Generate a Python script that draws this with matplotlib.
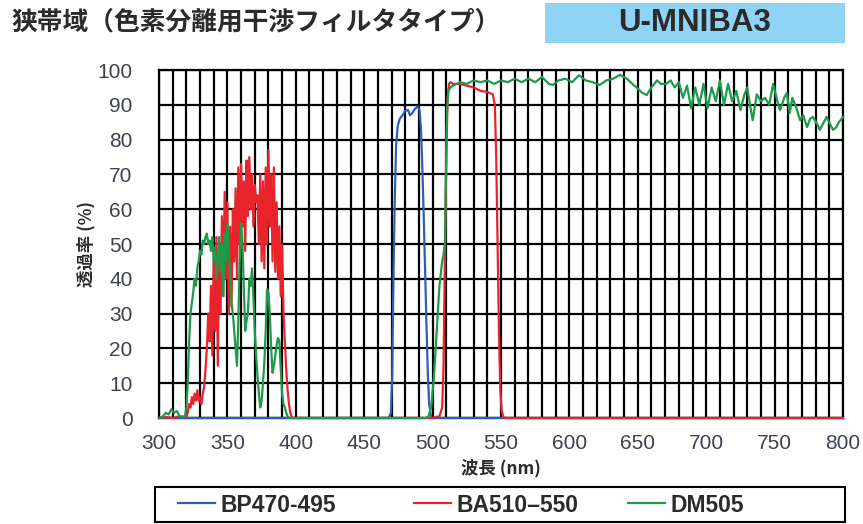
import matplotlib
matplotlib.use("Agg")
import matplotlib.pyplot as plt
from matplotlib.patches import Rectangle
from matplotlib.lines import Line2D
from matplotlib.ticker import MultipleLocator

# ---- spectra (wavelength nm, transmittance %)
bp_wl = [300, 468, 469.5, 470.5, 471.3, 472.3, 473.3, 474.5, 476, 478, 480, 482, 483.5,
         485, 487, 489, 490.5, 491.5, 492.5, 493.5, 494.5, 495.5, 496.5, 497.5, 499, 800]
bp_t = [0, 0, 1.5, 12, 38, 62, 78, 84, 86, 87, 88.3, 88.5, 87,
        87.5, 88.8, 89.5, 88.5, 83, 72, 58, 43, 27, 13, 4, 0, 0]

ba_wl = [300, 305, 310, 315, 320, 321, 322, 323, 324, 325, 326, 327, 328, 329, 330,
         331, 332, 333, 334, 335, 336, 337, 338, 339, 340, 341, 342, 343, 344, 345,
         346, 347, 348, 349, 350, 351, 352, 353, 354, 355, 356, 357, 358, 359, 360,
         361, 362, 363, 364, 365, 366, 367, 368, 369, 370, 371, 372, 373, 374, 375,
         376, 377, 378, 379, 380, 381, 382, 383, 384, 385, 386, 387, 388, 389, 390,
         391, 392, 393, 394, 395, 396, 397, 398,
         500, 505, 507, 508, 509, 510, 511, 512, 513, 515, 520, 525, 530, 535, 540,
         544, 545.5, 546.5, 547.5, 548.5, 549.5, 550.5, 552, 800]
ba_t = [0, 0.3, 0, 0.5, 0.3, 1.5, 4, 3, 6, 4, 7, 5, 8, 5, 6,
        4, 7, 9, 14, 20, 30, 22, 38, 18, 45, 25, 52, 15, 48, 30,
        58, 35, 65, 40, 62, 30, 55, 32, 60, 45, 66, 40, 72, 50, 73,
        55, 68, 48, 74, 58, 75, 60, 70, 55, 67, 62, 64, 50, 70, 45,
        68, 43, 72, 50, 77, 55, 70, 45, 72, 42, 62, 40, 55, 35, 50,
        30, 22, 14, 8, 4, 1.5, 0.3, 0,
        0, 0.5, 3, 15, 46, 75, 92, 96, 96.5, 96, 96, 95.5, 95, 94, 93.7,
        93, 90, 75, 50, 25, 8, 2, 0, 0]

dm_wl = [300, 303, 305, 307, 309, 311, 313, 315, 317, 319, 320, 321, 322, 323, 324,
         325, 326, 327, 328, 329, 330, 331, 332, 333, 334, 335, 336, 337, 338, 339,
         340, 341, 342, 343, 344, 345, 346, 347, 348, 349, 350, 351, 352, 353, 354,
         355, 356, 357, 358, 359, 360, 361, 362, 363, 364, 365, 366, 367, 368, 369,
         370, 371, 372, 373, 374, 375, 376, 377, 378, 379, 380, 381, 382, 383, 384,
         385, 386, 387, 388, 389, 390, 391, 392, 393, 394, 395,
         495, 497, 499, 501, 503, 505, 507, 508, 509, 509.8, 510.5, 511.5, 513, 515,
         520, 525, 530, 535, 540, 545, 550, 555, 560, 565, 570, 575, 580, 585, 588,
         592, 597, 602, 607, 612, 617, 622, 627, 632, 637, 642, 646, 649, 653, 656.5,
         660, 664, 667, 671, 674, 677, 680, 683, 686, 689, 692, 695, 698, 701, 704,
         707, 710, 713, 716, 719, 722, 725, 728, 730, 732, 734, 737, 740, 743, 746,
         749, 752, 754, 757, 759, 761, 763, 766, 768.6, 771, 773.7, 776, 778, 781, 783,
         786, 788, 790.5, 792.7, 795, 797, 800]
dm_t = [0, 0.5, 1.5, 1, 2.5, 1.5, 2, 0.5, 0.3, 0.5, 3, 10, 22, 30, 33,
        36, 40, 38, 43, 45, 48, 47, 51, 50, 52, 53, 50, 51, 48, 52,
        45, 49, 40, 46, 52, 42, 50, 35, 53, 45, 56, 48, 40, 33, 30,
        25, 20, 15, 28, 45, 56, 50, 38, 25, 28, 30, 40, 38, 43, 35,
        25, 18, 12, 7, 3, 5, 10, 16, 25, 37, 36, 30, 20, 13, 15,
        18, 21, 23, 22, 14, 7, 4, 3, 1.5, 0.5, 0,
        0, 0.5, 3, 12, 25, 38, 45, 47, 50, 70, 88, 94, 95, 95.5,
        96.5, 96, 97, 96.5, 97, 96, 97, 96.5, 97.5, 96.5, 97.5, 96.5, 98, 96, 95.7,
        97, 97.5, 96.5, 98.5, 97, 96.5, 95.7, 97, 97.5, 98.6, 97.5, 96, 95, 93.5, 92.8,
        95, 97, 96, 96, 97, 95, 96.5, 92, 95.5, 89, 95, 90, 96, 89, 95,
        91, 97, 90, 96, 91, 94, 88.5, 93, 95, 90, 85.6, 93, 91, 92, 90,
        96, 91, 88.5, 92, 93.4, 87.6, 92, 89, 85.6, 87, 83.6, 86, 86.5, 84.5, 82.8,
        85, 86.5, 84.5, 82.8, 83.5, 85, 86.5]

series_names = ["BP470-495", "BA510–550", "DM505"]
series_colors = ["#2a5fbd", "#e8232c", "#1d9a4a"]

title_text = "狭帯域（色素分離用干渉フィルタタイプ）"
cube_name = "U-MNIBA3"

W, H = 863, 524
fig = plt.figure(figsize=(W / 100, H / 100), dpi=100)

# pixel box of the plotting area
x0, x1, ytop, ybot = 159, 843, 70, 418
ax = fig.add_axes([x0 / W, 1 - ybot / H, (x1 - x0) / W, (ybot - ytop) / H])

ax.set_xlim(300, 800)
ax.set_ylim(0, 100)
ax.xaxis.set_major_locator(MultipleLocator(50))
ax.xaxis.set_minor_locator(MultipleLocator(10))
ax.yaxis.set_major_locator(MultipleLocator(10))
ax.grid(which="both", color="black", lw=1.6)
ax.set_axisbelow(True)
for s in ax.spines.values():
    s.set_linewidth(1.6)
    s.set_color("black")

tick_font = ["Liberation Sans Narrow", "Liberation Sans"]
ax.tick_params(which="both", length=0)
ax.tick_params(axis="x", pad=11.5)
ax.tick_params(axis="y", pad=19)
for lab in ax.get_xticklabels() + ax.get_yticklabels():
    lab.set_fontfamily(tick_font)
    lab.set_fontsize(15)
    lab.set_color("#3e4150")

data = [(bp_wl, bp_t), (ba_wl, ba_t), (dm_wl, dm_t)]
for (wl, t), c in zip(data, series_colors):
    ax.plot(wl, t, color=c, lw=1.6, zorder=4, clip_on=False)

# axis titles
jp = ["Noto Sans CJK JP", "DejaVu Sans"]
fig.text(86.5 / W, 1 - 244 / H, "透過率 (%)", rotation=90, ha="center", va="center",
         fontsize=12.5, family=jp, fontweight="bold", color="#2b2b2b")
fig.text(501 / W, 1 - 468 / H, "波長 (nm)", ha="center", va="center",
         fontsize=12.5, family=jp, fontweight="bold", color="#2b2b2b")

# heading and cube name box
fig.text(12 / W, 1 - 22 / H, title_text, ha="left", va="center", fontsize=18.5,
         family=jp, fontweight="bold", color="#2b2b2b")
fig.patches.append(Rectangle((545 / W, 1 - 43 / H), 300 / W, 40 / H,
                             transform=fig.transFigure, facecolor="#8fd4f5",
                             edgecolor="none"))
fig.text(695 / W, 1 - 23 / H, cube_name, ha="center", va="center", fontsize=22.5,
         family=["Liberation Sans", "DejaVu Sans"], fontweight="bold", color="#2b2b2b")

# legend strip at the bottom, one entry per series at its own spot
fig.patches.append(Rectangle((155 / W, 1 - 522 / H), 690 / W, 35 / H,
                             transform=fig.transFigure, facecolor="white",
                             edgecolor="black", lw=1.5))
entry_x = [178, 414, 628]
for name, c, ex in zip(series_names, series_colors, entry_x):
    fig.legend([Line2D([], [], color=c, lw=1.6)], [name], loc="center left",
               frameon=False, bbox_to_anchor=(ex / W, 1 - 505 / H), borderpad=0,
               borderaxespad=0, handlelength=1.6, handletextpad=0.25,
               prop={"family": tick_font, "size": 16.5, "weight": "bold"},
               labelcolor="#2b2b2b")

fig.savefig("out.png", dpi=100)
